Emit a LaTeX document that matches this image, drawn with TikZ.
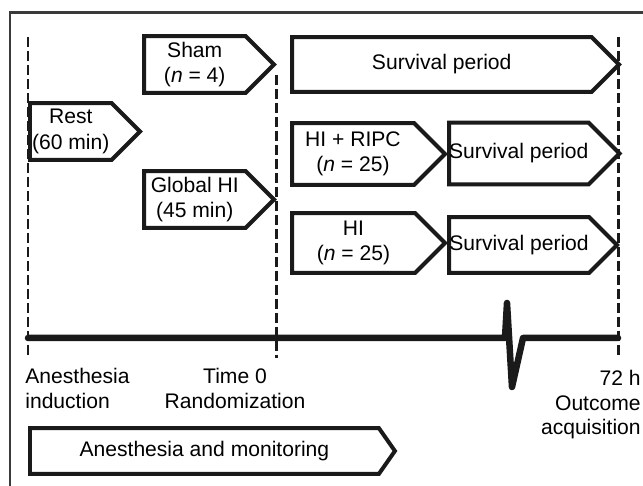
\documentclass[tikz,border=0pt]{standalone}
\usepackage{fontspec}
\setmainfont{Liberation Sans}
\usepackage{xcolor}
\usepackage{tikz}
\definecolor{frameline}{HTML}{3a3a3a}
\definecolor{boxline}{HTML}{1a1a1a}
\usetikzlibrary{shapes.symbols, positioning, calc}
\tikzset{
  phase/.style={signal, signal to=east, draw=boxline, line width=0.08cm, fill=white,
    inner sep=0pt, align=center, anchor=west, font=\fontsize{12}{14.5}\selectfont},
  tick/.style={draw=boxline, line width=0.06cm, dash pattern=on 0.2cm off 0.08cm},
  stamp/.style={inner sep=0pt, font=\fontsize{12}{14}\selectfont}
}

\begin{document}
\begin{tikzpicture}[x=0.02cm, y=-0.02cm]
\useasboundingbox (0,0) rectangle (643,486);
% Draw the outer frame
\draw[frameline, line width=0.06cm] (10,486) -- (10,13) -- (643,13);
% Draw the dashed time marks
\coordinate (tA) at (28,37);   \coordinate (bA) at (28,358);
\coordinate (tB) at (276,75);  \coordinate (bB) at (276,358);
\coordinate (tC) at (618,37);  \coordinate (bC) at (618,358);
\draw[tick] (tA) -- (bA);
\draw[tick] (tB) -- (bB);
\draw[tick] (tC) -- (bC);
% Draw the phases before randomization
\node[phase, minimum width=2.2cm, minimum height=1.14cm] (rest) at (28,131.5) {Rest\\(60 min)};
\node[phase, minimum width=2.6cm, minimum height=1.14cm] (sham) at (142,64.5) {Sham\\(\textit{n} = 4)};
\node[phase, minimum width=2.6cm, minimum height=1.14cm] (globalhi) at (142,199.5) {Global HI\\(45 min)};
% Draw the groups after randomization
\node[phase, minimum width=6.54cm, minimum height=1.1cm] (survsham) at (290,64.5) {Survival period};
\node[phase, minimum width=3.06cm, minimum height=1.24cm] (ripc) at (290,154) {HI + RIPC\\(\textit{n} = 25)};
\node[phase, minimum width=3.36cm, minimum height=1.24cm] (survripc) at (447,153.5) {Survival period};
\node[phase, minimum width=3.06cm, minimum height=1.2cm] (hionly) at (290,243) {HI\\(\textit{n} = 25)};
\node[phase, minimum width=3.36cm, minimum height=1.12cm] (survhi) at (447,245) {Survival period};
% Draw the time line with the break
\coordinate (lineA) at (28,338);
\coordinate (lineC) at (618,338);
\draw[boxline, line width=0.13cm, line cap=round, line join=round]
  (lineA) -- (501,338) -- (505,338) -- (507,303) -- (512,387) -- (523,338) -- (lineC);
% Labels below the time line
\node[stamp, anchor=north west, align=left] (induction) at (25,368) {Anesthesia\\induction};
\node[stamp, anchor=north, align=center] (randomization) at (235,368) {Time 0\\Randomization};
\node[stamp, anchor=north east, align=right] (outcome) at (641,370) {72 h\\Outcome\\acquisition};
% Draw the monitoring bar
\node[phase, signal pointer angle=110, minimum width=7.3cm, minimum height=0.92cm] (monitoring) at (28,451) {Anesthesia and monitoring};
\end{tikzpicture}
\end{document}
